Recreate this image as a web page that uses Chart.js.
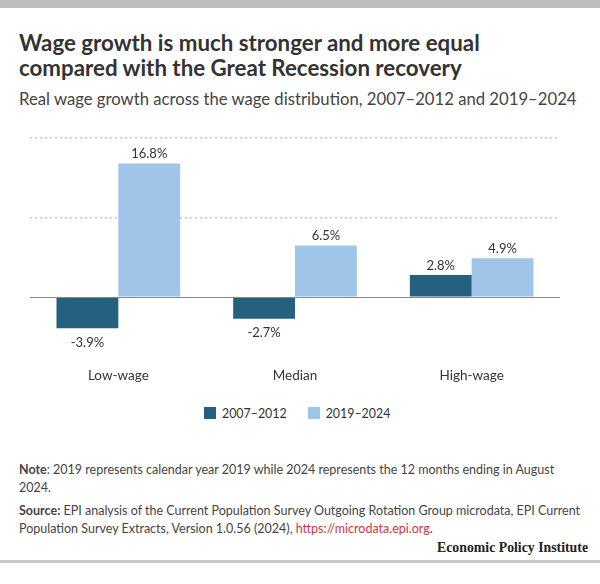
<!DOCTYPE html>
<html>
<head>
<meta charset="utf-8">
<script src="https://cdn.jsdelivr.net/npm/chart.js@4.4.1/dist/chart.umd.min.js"></script>
<style>
  body { margin: 0; background: #fff; font-family: Lato, "Open Sans", sans-serif; color: #333; }
  #wrap { position: relative; width: 600px; height: 584px; overflow: hidden; }
  #topbar { position: absolute; left: 0; top: 0; width: 600px; height: 8px; background: #bdbdbd; }
  #title { position: absolute; left: 19px; top: 30px; font-size: 22.3px; font-weight: 700; line-height: 25px; color: #333; }
  #subtitle { position: absolute; left: 19px; top: 89px; font-size: 16.7px; color: #444; }
  #chartBox { position: absolute; left: 0; top: 120px; width: 600px; height: 285px; }
  #legend { position: absolute; left: 204px; top: 406px; font-size: 12.4px; color: #333; white-space: nowrap; }
  #legend span.item { display: inline-block; margin-right: 21px; }
  #legend span.box { display: inline-block; width: 12px; height: 12px; margin-right: 6px; vertical-align: -1px; }
  #notes { position: absolute; left: 19px; top: 461px; width: 570px; font-size: 12.5px; line-height: 18px; color: #444; }
  #notes p { margin: 0 0 5px 0; }
  #notes a { color: #d3343a; text-decoration: none; }
  #epi { position: absolute; right: 12px; top: 540px; font-family: "Liberation Serif", serif; font-weight: 700; font-size: 13.8px; color: #222; }
  #bottombar { position: absolute; left: 0; top: 560px; width: 600px; height: 3px; background: #c8c8c8; }
</style>
</head>
<body>
<div id="wrap">
  <div id="topbar"></div>
  <div id="title">Wage growth is much stronger and more equal<br>compared with the Great Recession recovery</div>
  <div id="subtitle">Real wage growth across the wage distribution, 2007–2012 and 2019–2024</div>
  <div id="chartBox"><canvas id="chart"></canvas></div>
  <div id="legend"></div>
  <div id="notes">
    <p><b>Note</b>: 2019 represents calendar year 2019 while 2024 represents the 12 months ending in August 2024.</p>
    <p><b>Source:</b> EPI analysis of the Current Population Survey Outgoing Rotation Group microdata, EPI Current Population Survey Extracts, Version 1.0.56 (2024), <a href="#">https://microdata.epi.org</a>.</p>
  </div>
  <div id="epi">Economic Policy Institute</div>
  <div id="bottombar"></div>
</div>
<script>
const categories = ['Low-wage', 'Median', 'High-wage'];
const growth2007to2012 = [-3.9, -2.7, 2.8];
const growth2019to2024 = [16.8, 6.5, 4.9];
const gridValues = [0, 10, 20];

const darkBlue = '#25617f';
const lightBlue = '#9fc5e8';

// value labels above / below each bar
const barLabels = {
  id: 'barLabels',
  afterDatasetsDraw(chart) {
    const ctx = chart.ctx;
    ctx.save();
    ctx.font = '13px Lato, "Open Sans", sans-serif';
    ctx.fillStyle = '#333';
    ctx.textAlign = 'center';
    chart.data.datasets.forEach((ds, i) => {
      chart.getDatasetMeta(i).data.forEach((bar, j) => {
        const v = ds.data[j];
        const txt = v.toFixed(1) + '%';
        if (v >= 0) {
          ctx.textBaseline = 'alphabetic';
          ctx.fillText(txt, bar.x, bar.y - 5);
        } else {
          ctx.textBaseline = 'top';
          ctx.fillText(txt, bar.x, bar.y + 8);
        }
      });
    });
    ctx.restore();
  }
};

// solid zero line
const zeroLine = {
  id: 'zeroLine',
  afterDatasetsDraw(chart) {
    const y = Math.round(chart.scales.y.getPixelForValue(0)) + 0.5;
    const area = chart.chartArea;
    const ctx = chart.ctx;
    ctx.save();
    ctx.strokeStyle = '#888';
    ctx.lineWidth = 1;
    ctx.beginPath();
    ctx.moveTo(area.left, y);
    ctx.lineTo(area.right, y);
    ctx.stroke();
    ctx.restore();
  }
};

const chart = new Chart(document.getElementById('chart'), {
  type: 'bar',
  data: {
    labels: categories,
    datasets: [
      { label: '2007–2012', data: growth2007to2012, backgroundColor: darkBlue },
      { label: '2019–2024', data: growth2019to2024, backgroundColor: lightBlue }
    ]
  },
  options: {
    responsive: true,
    maintainAspectRatio: false,
    animation: false,
    layout: { padding: { left: 30, right: 40, top: 18, bottom: 22 } },
    datasets: { bar: { categoryPercentage: 0.7, barPercentage: 1.0 } },
    scales: {
      x: {
        afterFit: scale => { scale.height = 46; },
        grid: { display: false },
        border: { display: false },
        ticks: { color: '#333', font: { size: 13.5, family: 'Lato' }, padding: 23 }
      },
      y: {
        min: -5,
        max: 20,
        afterBuildTicks: scale => { scale.ticks = gridValues.map(v => ({ value: v })); },
        afterFit: scale => { scale.width = 0; },
        ticks: { display: false },
        border: { display: false, dash: [2, 3] },
        grid: {
          drawTicks: false,
          color: c => (c.tick && c.tick.value === 0) ? 'rgba(0,0,0,0)' : '#c8c8c8',
          lineWidth: 1.5
        }
      }
    },
    plugins: {
      legend: { display: false },
      tooltip: { enabled: false }
    }
  },
  plugins: [barLabels, zeroLine]
});

// html legend built from the datasets
const legendEl = document.getElementById('legend');
chart.data.datasets.forEach(ds => {
  const item = document.createElement('span');
  item.className = 'item';
  const box = document.createElement('span');
  box.className = 'box';
  box.style.background = ds.backgroundColor;
  item.appendChild(box);
  item.appendChild(document.createTextNode(ds.label));
  legendEl.appendChild(item);
});
</script>
</body>
</html>
